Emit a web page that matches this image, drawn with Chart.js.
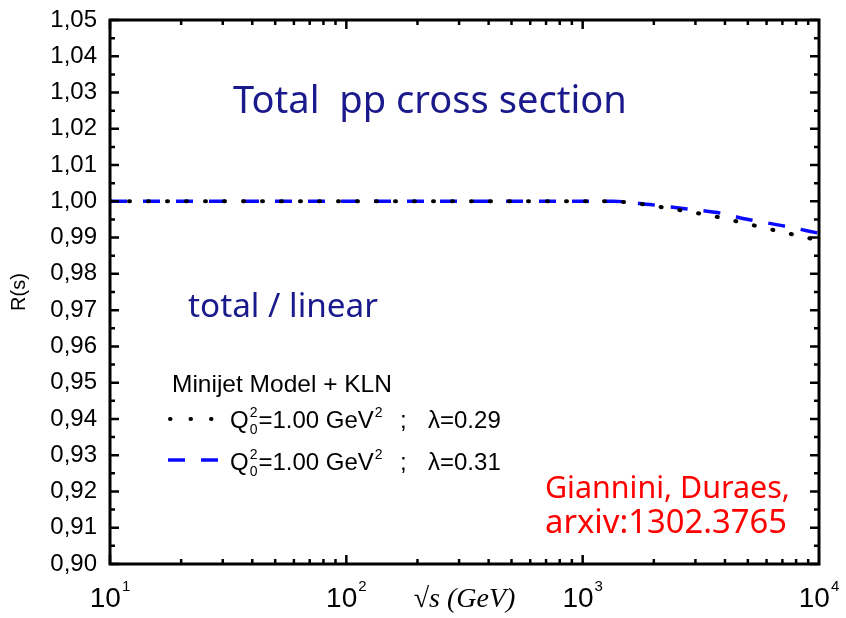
<!DOCTYPE html>
<html><head><meta charset="utf-8">
<script src="https://cdn.jsdelivr.net/npm/chart.js@4"></script>
<style>html,body{margin:0;padding:0;background:#fff}</style>
</head><body>
<canvas id="c" width="846" height="618"></canvas>
<script>
// ---- data ----
const energyBlack = [10, 1300, 1618, 2344, 3459, 5109, 7470, 10000];
const ratioBlack  = [1.0, 1.0, 0.9996, 0.9980, 0.9961, 0.9936, 0.9911, 0.9892];
const energyBlue  = [10, 1350, 1928, 2660, 3706, 5012, 6982, 10000];
const ratioBlue   = [1.0, 1.0, 0.9991, 0.9980, 0.9969, 0.9950, 0.9933, 0.9912];
const xTickValues = [10, 100, 1000, 10000];
const xTickBase = ['10', '10', '10', '10'];
const xTickExp = ['1', '2', '3', '4'];
const legendHeader = 'Minijet Model + KLN';
const legendLambdas = ['λ=0.29', 'λ=0.31'];
const titleText = 'Total  pp cross section';
const subTitleText = 'total / linear';
const refLines = ['Giannini, Duraes,', 'arxiv:1302.3765'];

const toPts = (xs, ys) => xs.map((x, i) => ({x: x, y: ys[i]}));
const SANS = '"Liberation Sans", Arial, sans-serif';
const COMIC = '"Noto Sans", sans-serif';

function fitText(ctx, text, x, baseline, width, size, family, color) {
  ctx.font = size + 'px ' + family;
  const w = ctx.measureText(text).width;
  const s = size * width / w;
  ctx.font = s.toFixed(2) + 'px ' + family;
  ctx.fillStyle = color;
  ctx.textAlign = 'left';
  ctx.textBaseline = 'alphabetic';
  ctx.fillText(text, x, baseline);
}

const decor = {
  id: 'decor',
  afterDraw(chart) {
    const ctx = chart.ctx, a = chart.chartArea;
    const xs = chart.scales.x, ys = chart.scales.y;
    ctx.save();
    ctx.strokeStyle = '#000';
    ctx.lineCap = 'butt';
    ctx.lineWidth = 2.5;
    const yt = ys.ticks.map(t => t.value);
    yt.forEach((v, i) => {
      const py = ys.getPixelForValue(v);
      ctx.beginPath();
      ctx.moveTo(a.left, py); ctx.lineTo(a.left + 9, py);
      ctx.moveTo(a.right, py); ctx.lineTo(a.right - 9, py);
      ctx.stroke();
      if (i < yt.length - 1) {
        const pm = ys.getPixelForValue((v + yt[i + 1]) / 2);
        ctx.beginPath();
        ctx.moveTo(a.left, pm); ctx.lineTo(a.left + 5, pm);
        ctx.moveTo(a.right, pm); ctx.lineTo(a.right - 5, pm);
        ctx.stroke();
      }
    });
    for (let d = 0; d < xTickValues.length - 1; d++) {
      for (let m = 1; m <= 9; m++) {
        const v = xTickValues[d] * m;
        const px = xs.getPixelForValue(v);
        const len = m === 1 ? 9 : 5;
        ctx.beginPath();
        ctx.moveTo(px, a.bottom); ctx.lineTo(px, a.bottom - len);
        ctx.moveTo(px, a.top); ctx.lineTo(px, a.top + len);
        ctx.stroke();
      }
    }
    ctx.lineWidth = 3;
    ctx.strokeRect(a.left, a.top, a.right - a.left, a.bottom - a.top);

    // x tick labels 10^n
    ctx.fillStyle = '#000';
    ctx.textBaseline = 'alphabetic';
    ctx.textAlign = 'left';
    xTickValues.forEach((v, i) => {
      const px = xs.getPixelForValue(v);
      ctx.font = '28px ' + SANS;
      const wb = ctx.measureText(xTickBase[i]).width;
      ctx.font = '15px ' + SANS;
      const we = ctx.measureText(xTickExp[i]).width;
      const x0 = px - (wb + 1 + we) / 2;
      ctx.font = '28px ' + SANS;
      ctx.fillText(xTickBase[i], x0, 607);
      ctx.font = '15px ' + SANS;
      ctx.fillText(xTickExp[i], x0 + wb + 1, 591);
    });

    fitText(ctx, titleText, 233, 113, 394, 32, COMIC, '#1a1a8c');
    fitText(ctx, subTitleText, 188, 317, 190, 26, COMIC, '#1a1a8c');
    fitText(ctx, refLines[0], 545, 498, 245, 27, COMIC, '#ff0000');
    fitText(ctx, refLines[1], 545, 533, 242, 27, COMIC, '#ff0000');

    fitText(ctx, legendHeader, 172, 392, 220, 23, SANS, '#000');
    const rows = [{y: 419, base: 428}, {y: 460, base: 470}];
    chart.data.datasets.forEach((ds, i) => {
      const r = rows[i];
      ctx.save();
      ctx.strokeStyle = ds.borderColor;
      ctx.lineWidth = ds.borderWidth;
      ctx.lineCap = ds.borderCapStyle;
      ctx.setLineDash(i === 0 ? [0.5, 20] : [17, 16]);
      ctx.beginPath();
      ctx.moveTo(i === 0 ? 170 : 168, r.y);
      ctx.lineTo(i === 0 ? 214 : 218, r.y);
      ctx.stroke();
      ctx.restore();
      ctx.fillStyle = '#000';
      let x = 230;
      ctx.font = '24px ' + SANS;
      ctx.fillText('Q', x, r.base);
      x += ctx.measureText('Q').width + 1;
      ctx.font = '14px ' + SANS;
      ctx.fillText('2', x, r.base - 11);
      ctx.fillText('0', x, r.base + 6);
      x += ctx.measureText('2').width + 1;
      ctx.font = '24px ' + SANS;
      ctx.fillText('=1.00 GeV', x, r.base);
      x += ctx.measureText('=1.00 GeV').width + 1;
      ctx.font = '14px ' + SANS;
      ctx.fillText('2', x, r.base - 11);
      ctx.font = '24px ' + SANS;
      ctx.fillText(';', 400, r.base);
      ctx.fillText(legendLambdas[i], 428, r.base);
    });
    ctx.restore();
  }
};

new Chart(document.getElementById('c'), {
  type: 'line',
  data: {
    datasets: [
      {
        label: 'Q0^2=1.00 GeV^2 ; λ=0.29',
        data: toPts(energyBlack, ratioBlack),
        borderColor: '#000000',
        borderWidth: 4,
        borderDash: [1, 18],
        borderCapStyle: 'round',
        pointRadius: 0,
        cubicInterpolationMode: 'monotone',
        fill: false
      },
      {
        label: 'Q0^2=1.00 GeV^2 ; λ=0.31',
        data: toPts(energyBlue, ratioBlue),
        borderColor: '#0a0aff',
        borderWidth: 3.5,
        borderDash: [17, 16],
        borderCapStyle: 'butt',
        pointRadius: 0,
        cubicInterpolationMode: 'monotone',
        fill: false
      }
    ]
  },
  options: {
    responsive: false,
    animation: false,
    layout: {padding: {top: 20, right: 27, bottom: 0, left: 0}},
    plugins: {legend: {display: false}, tooltip: {enabled: false}},
    scales: {
      x: {
        type: 'logarithmic',
        min: 10, max: 10000,
        grid: {display: false, drawTicks: false},
        border: {display: false},
        ticks: {display: false},
        title: {display: true, text: '√s (GeV)', color: '#000',
                font: {family: '"Liberation Serif", "Times New Roman", serif', style: 'italic', size: 28},
                padding: {top: 0, bottom: 2}},
        afterFit: s => { s.height = 54; s.paddingLeft = 0; s.paddingRight = 0; }
      },
      y: {
        min: 0.9, max: 1.05,
        grid: {display: false, drawTicks: false},
        border: {display: false},
        ticks: {
          stepSize: 0.01,
          color: '#000',
          padding: 13,
          font: {family: SANS, size: 24},
          callback: v => (Math.round(v * 100) / 100).toFixed(2).replace('.', ',')
        },
        title: {display: true, text: 'R(s)', color: '#000',
                font: {family: SANS, size: 20}, padding: {top: 7, bottom: 0}},
        afterFit: s => { s.width = 110; s.paddingTop = 0; s.paddingBottom = 0; }
      }
    }
  },
  plugins: [decor]
});
</script>
</body></html>
